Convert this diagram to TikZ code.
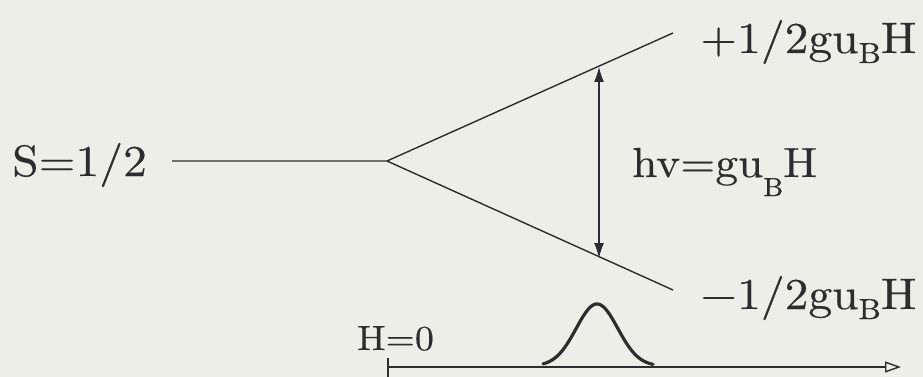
\documentclass[tikz,border=0pt]{standalone}
\usepackage{fontspec}
\setmainfont{lmroman10-regular.otf}[FakeStretch=1.08,FakeBold=0.4]
\usetikzlibrary{arrows.meta}
\definecolor{paper}{RGB}{238,238,233}
\definecolor{ink}{RGB}{45,45,45}
\begin{document}
\begin{tikzpicture}[x=1pt,y=-1pt,
  lbl/.style={inner sep=0pt, anchor=base west, text=ink},
  big/.style={font=\fontsize{44}{50}\selectfont},
  mid/.style={font=\fontsize{42}{46}\selectfont},
  small/.style={font=\fontsize{35}{40}\selectfont},
  branch/.style={draw=ink, line width=1.4pt},
  gap/.style={draw=ink, line width=1.1pt, {Latex[length=15pt,width=10pt]}-{Latex[length=15pt,width=10pt]}},
  axis/.style={draw=ink, line width=1.4pt, -{Triangle[open,length=16pt,width=11pt,line width=1.4pt]}},
  peak/.style={draw=ink, line width=3.2pt, line join=round, line cap=round}]
\fill[paper] (0,0) rectangle (923,377);
\useasboundingbox (0,0) rectangle (923,377);
% level diagram
\coordinate (s0) at (172,161);
\coordinate (v) at (387,161);
\coordinate (up) at (673,33);
\coordinate (dn) at (673,290);
\coordinate (a1) at (599,67);
\coordinate (a2) at (599,258);
\draw[branch] (s0) -- (v) -- (up);
\draw[branch] (v) -- (dn);
\draw[gap] (a1) -- (a2);
% labels
\node[lbl,big] (spin) at (12,176) {S=1/2};
\node[lbl,big] (plus) at (700,53) {+1/2gu\raisebox{-10pt}{\fontsize{29}{30}\selectfont B}H};
\node[lbl,big] (minus) at (700,309) {−1/2gu\raisebox{-10pt}{\fontsize{29}{30}\selectfont B}H};
\node[lbl,mid] (hv) at (632,177) {hv=gu\raisebox{-19pt}{\fontsize{26}{28}\selectfont B}H};
\node[lbl,small] (h0) at (357,350) {H=0};
% field axis and resonance line
\coordinate (t0) at (388,358);
\coordinate (t1) at (388,377);
\coordinate (ax0) at (388,367);
\coordinate (ax1) at (901,367);
\draw[branch] (t0) -- (t1);
\draw[axis] (ax0) -- (ax1);
\draw[peak] plot[domain=543:653, samples=90, smooth] (\x, {366 - 62*exp(-0.5*((\x-597)/20.8)^2)});
\end{tikzpicture}
\end{document}
